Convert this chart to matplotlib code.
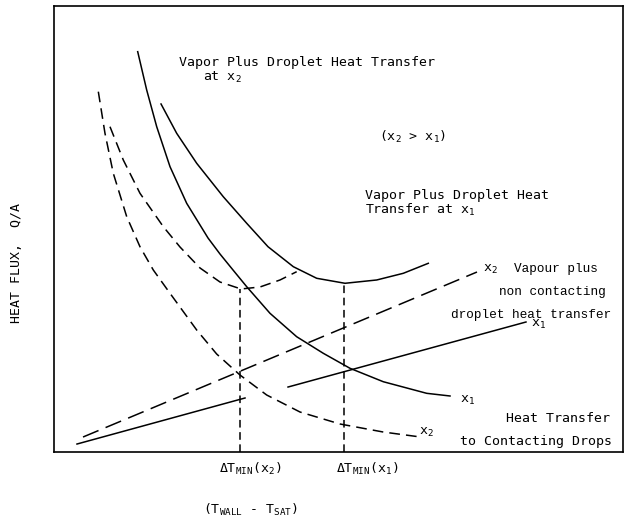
import numpy as np
import matplotlib.pyplot as plt

# typewriter look: sans mono for most labels, mathtext in the same face
plt.rcParams['mathtext.fontset'] = 'custom'
plt.rcParams['mathtext.rm'] = 'DejaVu Sans Mono'
plt.rcParams['mathtext.it'] = 'DejaVu Sans Mono'
plt.rcParams['mathtext.bf'] = 'DejaVu Sans Mono'

# curves (arbitrary units, 0-100 on both axes)
# vapor plus droplet heat transfer at x1 (steep solid curve, ends at "x1")
x1_drop_x = [14.71, 16.29, 18.05, 20.39, 23.32, 27.07, 29.17, 31.46, 33.87, 37.96,
             42.65, 47.33, 52.02, 57.87, 65.50, 69.60]
x1_drop_y = [89.76, 81.17, 72.94, 63.97, 55.76, 47.98, 44.40, 40.81, 37.06, 31.10,
             25.85, 22.13, 18.77, 15.76, 13.16, 12.56]

# total curve at x1 (solid U)
x1_total_x = [18.81, 21.56, 25.08, 29.75, 33.87, 37.61, 42.06, 46.17, 51.14, 56.71,
              61.39, 65.78]
x1_total_y = [78.03, 71.46, 64.73, 57.24, 51.28, 46.03, 41.55, 38.95, 37.83, 38.57,
              40.07, 42.31]

# heat transfer to contacting drops at x2 (dashed, ends at "x2")
x2_drop_x = [7.79, 8.96, 10.42, 12.78, 15.11, 17.45, 20.39, 25.08, 28.59, 32.69,
             37.38, 43.23, 50.26, 57.87, 63.74]
x2_drop_y = [80.79, 71.46, 62.49, 52.76, 46.03, 40.81, 35.58, 27.35, 21.97, 17.26,
             12.78, 8.97, 6.28, 4.48, 3.48]

# total curve at x2 (dashed U)
x2_total_x = [9.84, 12.18, 15.11, 19.21, 22.14, 25.66, 29.17, 32.87, 36.20, 39.72,
              42.65]
x2_total_y = [72.94, 65.47, 58.01, 50.52, 45.97, 41.26, 38.12, 36.55, 37.00, 38.57,
              40.43]

# vapour plus non contacting droplet lines
x2_vap_x = [5.10, 74.34]
x2_vap_y = [3.36, 40.36]
x1_vap_x = [4.04, 33.57, 41.13, 82.95]
x1_vap_y = [1.79, 12.11, 14.57, 29.15]

# minimum film boiling temperatures
dtmin_x = [32.69, 51.02]
dtmin_y = [36.55, 37.83]

fig = plt.figure(figsize=(6.25, 5.27), dpi=100)
ax = fig.add_axes([0.0864, 0.1423, 0.9104, 0.8463])
ax.set_xlim(0, 100)
ax.set_ylim(0, 100)
ax.set_xticks([])
ax.set_yticks([])
for s in ax.spines.values():
    s.set_linewidth(1.2)

lw = 1.1
ax.plot(x1_drop_x, x1_drop_y, color='black', lw=lw)
ax.plot(x1_total_x, x1_total_y, color='black', lw=lw)
ax.plot(x2_drop_x, x2_drop_y, color='black', lw=lw, dashes=(7, 4))
ax.plot(x2_total_x, x2_total_y, color='black', lw=lw, dashes=(7, 4))
ax.plot(x2_vap_x, x2_vap_y, color='black', lw=lw, dashes=(11, 5))
ax.plot(x1_vap_x[:2], x1_vap_y[:2], color='black', lw=lw)
ax.plot(x1_vap_x[2:], x1_vap_y[2:], color='black', lw=lw)
for xv, yv in zip(dtmin_x, dtmin_y):
    ax.plot([xv, xv], [0, yv], color='black', lw=lw, dashes=(5, 3))

mono = 'DejaVu Sans Mono'
serif = 'Liberation Mono'
fs = 9.5

ax.text(21.97, 87.4, 'Vapor Plus Droplet Heat Transfer', family=mono, fontsize=fs, va='center')
ax.text(26.19, 84.0, 'at x$_2$', family=mono, fontsize=fs, va='center')
ax.text(57.1, 70.6, '(x$_2$ > x$_1$)', family=mono, fontsize=fs, va='center')
ax.text(54.66, 57.6, 'Vapor Plus Droplet Heat', family=mono, fontsize=fs, va='center')
ax.text(54.66, 54.2, 'Transfer at x$_1$', family=mono, fontsize=fs, va='center')

ax.text(75.4, 41.0, 'x$_2$', family=mono, fontsize=fs, va='center')
ax.text(95.6, 41.0, 'Vapour plus', family=serif, fontsize=9.2, va='center', ha='right')
ax.text(96.9, 35.8, 'non contacting', family=serif, fontsize=9.2, va='center', ha='right')
ax.text(98.0, 30.8, 'droplet heat transfer', family=serif, fontsize=9.2, va='center', ha='right')
ax.text(83.8, 28.6, 'x$_1$', family=mono, fontsize=fs, va='center')
ax.text(71.3, 11.6, 'x$_1$', family=mono, fontsize=fs, va='center')
ax.text(64.2, 4.3, 'x$_2$', family=mono, fontsize=fs, va='center')
ax.text(97.8, 7.6, 'Heat Transfer', family=mono, fontsize=fs, va='center', ha='right')
ax.text(98.0, 2.4, 'to Contacting Drops', family=mono, fontsize=fs, va='center', ha='right')

# x axis annotations below the frame
ax.text(34.5, -3.8, r'$\Delta$T$_{MIN}$(x$_2$)', family=mono, fontsize=fs,
        ha='center', va='center', clip_on=False)
ax.text(55.0, -3.8, r'$\Delta$T$_{MIN}$(x$_1$)', family=mono, fontsize=fs,
        ha='center', va='center', clip_on=False)
ax.text(34.5, -13.0, '(T$_{WALL}$ - T$_{SAT}$)', family=mono, fontsize=fs,
        ha='center', va='center', clip_on=False)
ax.text(-6.6, 42.4, 'HEAT FLUX,  Q/A', family=mono, fontsize=fs, rotation=90,
        ha='center', va='center', clip_on=False)

fig.savefig('out.png', dpi=100)
